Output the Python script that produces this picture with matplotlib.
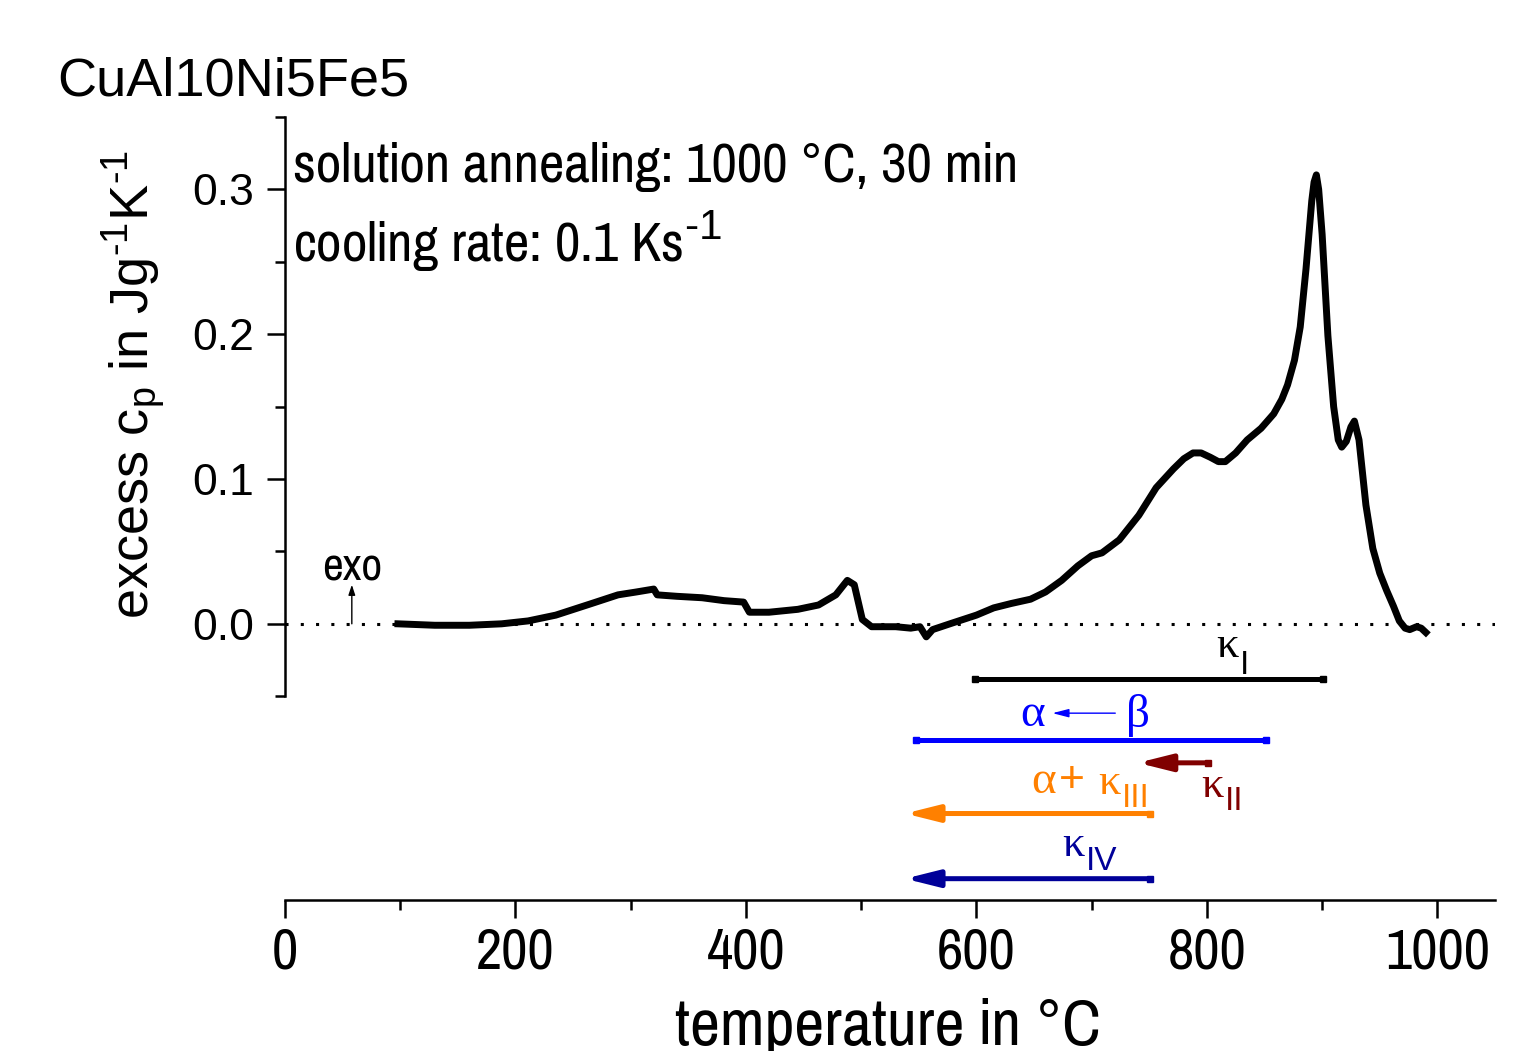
import matplotlib
matplotlib.use('Agg')
import matplotlib.pyplot as plt
from matplotlib.ticker import FixedLocator

plt.rcParams['font.family'] = ['Liberation Sans', 'DejaVu Sans']
plt.rcParams['mathtext.fontset'] = 'custom'
plt.rcParams['mathtext.rm'] = 'Liberation Sans'
plt.rcParams['mathtext.it'] = 'Liberation Sans:italic'

NARROW = ['Pragati Narrow', 'Roboto Condensed', 'Liberation Sans', 'DejaVu Sans']
SERIF = ['Liberation Serif', 'DejaVu Serif']

temp = [98, 130, 160, 188, 211, 235, 266, 289, 305, 320, 323, 340, 362, 381,
        398, 403, 420, 445, 463, 478, 488, 494, 501, 509, 530, 543, 551,
        556.5, 562, 577, 600, 615, 630, 647, 660, 674, 688, 700, 709, 724,
        741, 756, 771, 780, 788, 795, 803, 810, 816, 825, 835, 847, 858, 865,
        870, 876, 881, 886, 891, 893, 895, 897, 900, 905, 910, 914, 917, 921,
        925, 928, 932, 938, 944, 950, 956, 962, 967, 972, 976, 982, 986, 990]
cp = [0.000, -0.001, -0.001, 0.000, 0.002, 0.006, 0.014, 0.020, 0.022, 0.024,
      0.020, 0.019, 0.018, 0.016, 0.015, 0.008, 0.008, 0.010, 0.013, 0.020,
      0.030, 0.027, 0.003, -0.002, -0.002, -0.003, -0.002, -0.009, -0.004,
      0.000, 0.006, 0.011, 0.014, 0.017, 0.022, 0.030, 0.040, 0.047, 0.049,
      0.058, 0.075, 0.094, 0.107, 0.114, 0.118, 0.118, 0.115, 0.112, 0.112,
      0.118, 0.127, 0.135, 0.145, 0.155, 0.165, 0.182, 0.205, 0.245, 0.292,
      0.305, 0.310, 0.300, 0.269, 0.199, 0.150, 0.127, 0.122, 0.126, 0.136,
      0.140, 0.127, 0.082, 0.052, 0.035, 0.023, 0.012, 0.002, -0.003,
      -0.004, -0.002, -0.003, -0.006]

# phase ranges (temperature start/end, row level)
kappa1_range = [599, 901]
kappa1_y = -0.038
beta_range = [548, 851]
beta_y = -0.080
kappa2_range = [801, 740]
kappa2_y = -0.096
kappa3_range = [751, 538]
kappa3_y = -0.131
kappa4_range = [751, 538]
kappa4_y = -0.176

xticks = [0, 200, 400, 600, 800, 1000]
xminor = [100, 300, 500, 700, 900]
yticks = [0.0, 0.1, 0.2, 0.3]
yminor = [-0.05, 0.05, 0.15, 0.25, 0.35]

fig = plt.figure(figsize=(15.33, 10.51), dpi=100)
ax = fig.add_axes([0.1859, 0.1437, 0.7893, 0.745])
ax.set_xlim(0, 1050)
ax.set_ylim(-0.1907, 0.35)

ax.spines['top'].set_visible(False)
ax.spines['right'].set_visible(False)
ax.spines['left'].set_bounds(-0.05, 0.35)
for s in ['left', 'bottom']:
    ax.spines[s].set_linewidth(1.8)

ax.set_xticks(xticks)
ax.xaxis.set_minor_locator(FixedLocator(xminor))
ax.set_yticks(yticks)
ax.set_yticklabels(['0.0', '0.1', '0.2', '0.3'])
ax.yaxis.set_minor_locator(FixedLocator(yminor))
ax.tick_params(which='major', direction='out', length=13, width=1.8)
ax.tick_params(which='minor', direction='out', length=7, width=1.8)
ax.tick_params(axis='y', labelsize=32, pad=9)
ax.tick_params(axis='x', pad=6)
for lab in ax.get_xticklabels():
    lab.set_family(NARROW)
    lab.set_fontsize(45)

# zero line and curve
ax.plot([0, 1050], [0, 0], color='black', lw=2.2, ls=(0, (1, 4)))
ax.plot(temp, cp, color='black', lw=5, solid_joinstyle='round')

# exo marker
ax.annotate('', xy=(58, 0.027), xytext=(58, 0.0),
            arrowprops=dict(arrowstyle='-|>,head_length=0.6,head_width=0.2',
                            color='black', lw=1, shrinkA=0, shrinkB=0))
t_exo = ax.text(58, 0.030, 'exo', family=NARROW, fontsize=40, ha='center',
                va='baseline')

# annotation texts
t_sol = ax.text(7, 0.305, 'solution annealing: 1000 °C, 30 min', family=NARROW,
                fontsize=56, ha='left', va='baseline')
t_cool = ax.text(7, 0.250, r'cooling rate: 0.1 Ks$^{\text{-1}}$',
                 family=NARROW, fontsize=56, ha='left', va='baseline')

fig.text(57 / 1533, 1 - 95 / 1051, 'CuAl10Ni5Fe5', fontsize=39,
         ha='left', va='baseline')
fig.text(135 / 1533, 1 - 385 / 1051,
         r'excess c$_\mathregular{p}$ in Jg$^{\text{-1}}$K$^{\text{-1}}$',
         fontsize=39, rotation=90, ha='center', va='center')
t_xl = fig.text(888 / 1533, 1 - 1045 / 1051, 'temperature in °C', family=NARROW,
                fontsize=58, ha='center', va='baseline')

# size the narrow texts to the widths seen in the picture
fig.canvas.draw()
for t, w in [(t_sol, 724), (t_xl, 425), (t_exo, 60)]:
    cur = t.get_window_extent().width
    t.set_fontsize(t.get_fontsize() * w / cur)
t_cool.set_fontsize(t_sol.get_fontsize())


def bar(rng, y, color):
    ax.plot(rng, [y, y], color=color, lw=3.6, solid_capstyle='butt')
    ax.plot(rng, [y, y], ls='none', marker='s', ms=5, color=color)


def arrow(rng, y, color):
    ax.annotate('', xy=(rng[1], y), xytext=(rng[0], y),
                arrowprops=dict(arrowstyle='-|>,head_length=20,head_width=5',
                                mutation_scale=1, color=color, lw=3.6,
                                shrinkA=0, shrinkB=0))
    ax.plot([rng[0]], [y], ls='none', marker='s', ms=5, color=color)


def kappa(x, y, sub, color, size=32, subsize=24, drop=-3):
    t = ax.text(x, y, 'κ', family=SERIF, fontsize=size, color=color,
                ha='center', va='center')
    ax.annotate(sub, xy=(1, 0), xycoords=t, xytext=(1, drop),
                textcoords='offset points', fontsize=subsize, color=color,
                ha='left', va='baseline')


bar(kappa1_range, kappa1_y, 'black')
kappa(818, -0.015, 'I', 'black', drop=-6)

bar(beta_range, beta_y, '#0000FF')
ax.text(649, -0.063, 'α', family=SERIF, fontsize=34, color='#0000FF',
        ha='center', va='center')
ax.text(740, -0.063, 'β', family=SERIF, fontsize=34, color='#0000FF',
        ha='center', va='center')
ax.annotate('', xy=(666, -0.0617), xytext=(720.5, -0.0617),
            arrowprops=dict(arrowstyle='-|>,head_length=0.7,head_width=0.18',
                            color='#0000FF', lw=1, shrinkA=0, shrinkB=0,
                            mutation_scale=14))

arrow(kappa2_range, kappa2_y, '#800000')
kappa(805, -0.112, 'II', '#800000')

arrow(kappa3_range, kappa3_y, '#FF8000')
ax.text(658, -0.109, 'α', family=SERIF, fontsize=34, color='#FF8000',
        ha='center', va='center')
ax.text(683, -0.108, '+', fontsize=32, color='#FF8000', ha='center', va='center')
kappa(715, -0.110, 'III', '#FF8000')

arrow(kappa4_range, kappa4_y, '#000099')
kappa(684, -0.153, 'IV', '#000099')

fig.savefig('out.png', dpi=100)
